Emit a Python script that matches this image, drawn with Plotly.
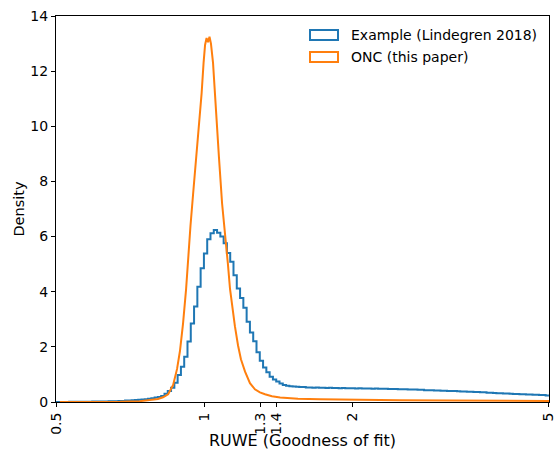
import numpy as np
import plotly.graph_objects as go

# ---------------- data ----------------
# Blue: step histogram, 150 log-spaced bins from 0.5 to 5 (density values)
blue_range = [0.5, 5.0]
blue_nbins = 150
blue_density = [
    0, 0, 0, 0,
    0.01, 0.01, 0.01, 0.01, 0.01, 0.01, 0.01,
    0.02, 0.02, 0.02, 0.02, 0.02, 0.03, 0.03,
    0.03, 0.04, 0.04, 0.05, 0.05,
    0.06, 0.07, 0.08, 0.09, 0.10, 0.12, 0.14, 0.16, 0.18,
    0.22, 0.30, 0.40, 0.52, 0.70, 0.98, 1.28, 1.64, 2.19, 2.85, 3.46, 4.18, 4.85, 5.39, 5.90, 6.12,
    6.24, 6.14, 6.00, 5.76, 5.40, 5.09, 4.60, 4.12, 3.77, 3.42, 2.91, 2.52, 2.20, 1.80, 1.50, 1.25, 1.08,
    0.92, 0.82, 0.74, 0.67, 0.62, 0.59, 0.57, 0.56, 0.55, 0.54, 0.54, 0.53, 0.53, 0.52, 0.53,
    0.52, 0.52, 0.51, 0.52, 0.51, 0.51, 0.50, 0.51, 0.50, 0.50,
    0.50, 0.49, 0.50, 0.49, 0.49, 0.49, 0.48, 0.49, 0.48, 0.48,
    0.48, 0.47, 0.47, 0.47, 0.46, 0.46, 0.46, 0.45, 0.45, 0.45,
    0.44, 0.44, 0.43, 0.43, 0.43, 0.42, 0.42, 0.41, 0.41, 0.40,
    0.40, 0.40, 0.39, 0.38, 0.38, 0.37, 0.37, 0.36, 0.36, 0.35,
    0.35, 0.34, 0.34, 0.33, 0.32, 0.32, 0.31, 0.31, 0.30, 0.29,
    0.29, 0.28, 0.28, 0.27, 0.27, 0.26, 0.26, 0.25, 0.25, 0.24,
]

# Orange: fine histogram, read as a curve
orange_ruwe = [0.509, 0.534, 0.60, 0.674, 0.740, 0.776, 0.805, 0.824, 0.844, 0.864, 0.880,
               0.892, 0.905, 0.918, 0.926, 0.937, 0.948, 0.962, 0.975, 0.987, 0.996, 1.003,
               1.010, 1.017, 1.024, 1.031, 1.041, 1.048, 1.060, 1.070, 1.086, 1.101, 1.116,
               1.127, 1.137, 1.153, 1.170, 1.186, 1.209, 1.237, 1.266, 1.296, 1.327, 1.371,
               1.424, 1.548, 1.716, 1.956, 2.493, 3.150, 3.978, 5.0]
orange_density = [0.0, 0.0, 0.005, 0.01, 0.03, 0.06, 0.11, 0.17, 0.28, 0.62, 1.2,
                  1.85, 2.85, 4.1, 5.2, 6.4, 7.5, 8.8, 10.1, 11.2, 12.3, 12.95,
                  13.2, 13.05, 13.25, 13.0, 12.3, 11.4, 10.0, 8.9, 7.2, 6.2, 5.0,
                  4.1, 3.5, 2.75, 2.05, 1.55, 1.1, 0.68, 0.46, 0.35, 0.28, 0.21,
                  0.16, 0.12, 0.10, 0.08, 0.06, 0.05, 0.045, 0.04]

x_ticks = [0.5, 1, 1.3, 1.4, 2, 5]
x_ticklabels = ["0.5", "1", "1.3", "1.4", "2", "5"]
y_ticks = [0, 2, 4, 6, 8, 10, 12, 14]

series_names = ["Example (Lindegren 2018)", "ONC (this paper)"]
colors = ["#1f77b4", "#ff7f0e"]

# ---------------- figure ----------------
edges = np.geomspace(blue_range[0], blue_range[1], blue_nbins + 1)
bx = list(edges)
by = list(blue_density) + [blue_density[-1]]

fig = go.Figure()
fig.add_trace(go.Scatter(x=bx, y=by, mode="lines", line=dict(color=colors[0], width=2, shape="hv"),
                         showlegend=False, hoverinfo="skip"))
fig.add_trace(go.Scatter(x=orange_ruwe, y=orange_density, mode="lines",
                         line=dict(color=colors[1], width=2), showlegend=False, hoverinfo="skip"))

W, H = 554, 450
L, R, T, B = 56, 549, 16, 402
pw, ph = R - L, B - T


def px2paper(x, y):
    return (x - L) / pw, (B - y) / ph


font = dict(family="DejaVu Sans", size=14, color="black")
xtitle_font = dict(family="DejaVu Sans", size=16, color="black")
ytitle_font = dict(family="DejaVu Sans", size=14.5, color="black")

shapes = []
annotations = []
for k, (name, col) in enumerate(zip(series_names, colors)):
    yc = 35 + 22 * k
    x0, y0 = px2paper(310, yc + 5)
    x1, y1 = px2paper(338, yc - 5)
    shapes.append(dict(type="rect", xref="paper", yref="paper", x0=x0, x1=x1, y0=y0, y1=y1,
                       line=dict(color=col, width=2), fillcolor="rgba(0,0,0,0)"))
    tx, ty = px2paper(349, yc)
    annotations.append(dict(x=tx, y=ty, xref="paper", yref="paper", text=name, showarrow=False,
                            xanchor="left", yanchor="middle", font=font))

eps = 1e-4
fig.update_layout(
    width=W, height=H,
    margin=dict(l=L, r=W - R, t=T, b=H - B, pad=0),
    paper_bgcolor="white", plot_bgcolor="white",
    font=font,
    shapes=shapes, annotations=annotations,
    xaxis=dict(type="log", range=[np.log10(0.5) - eps, np.log10(5) + eps], tickvals=x_ticks,
               ticktext=x_ticklabels, ticklabeloverflow="allow",
               tickangle=-90, ticks="outside", ticklen=4, tickcolor="black", showgrid=False,
               zeroline=False, showline=True, linecolor="black", linewidth=1, mirror=True,
               title=dict(text="RUWE (Goodness of fit)", font=xtitle_font, standoff=3), automargin=False),
    yaxis=dict(range=[0, 14], tickvals=y_ticks, ticks="outside", ticklen=4, tickcolor="black",
               showgrid=False, zeroline=False, showline=True, linecolor="black", linewidth=1, mirror=True,
               title=dict(text="Density", font=ytitle_font, standoff=2), automargin=False),
)

fig.write_html("out.html", config={"displayModeBar": False},
               post_script="document.body.style.margin='0px';document.body.style.overflow='hidden';")
